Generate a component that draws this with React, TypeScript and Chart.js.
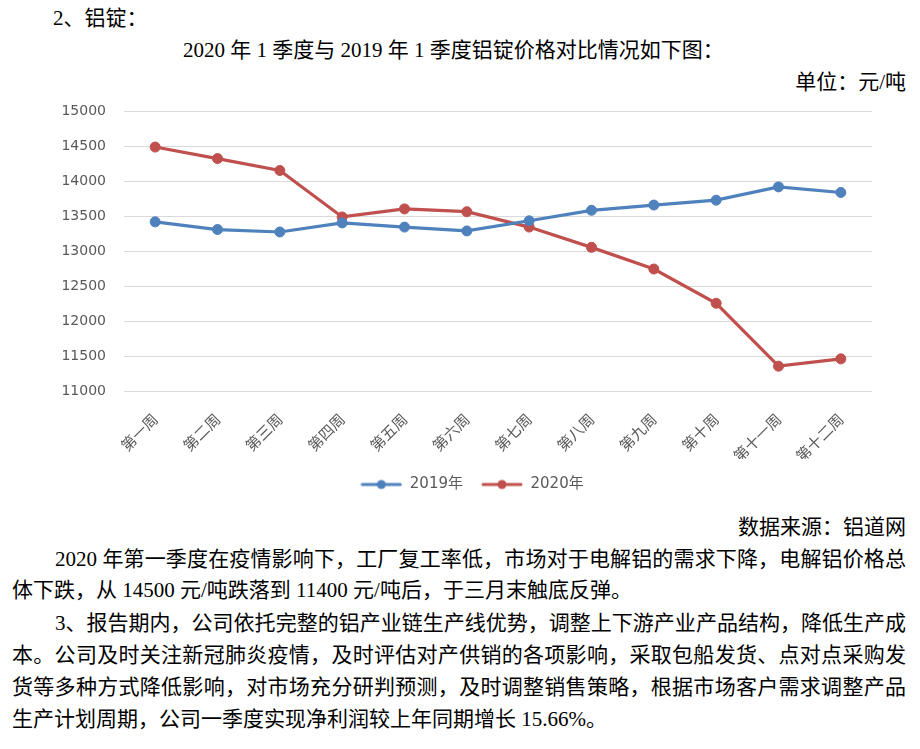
import React, { useEffect, useRef } from "react";
import { Chart, registerables } from "chart.js";

Chart.register(...registerables);

const categories = ["第一周", "第二周", "第三周", "第四周", "第五周", "第六周", "第七周", "第八周", "第九周", "第十周", "第十一周", "第十二周"];
const series2019 = [13420, 13310, 13275, 13405, 13345, 13290, 13435, 13585, 13660, 13730, 13920, 13840];
const series2020 = [14490, 14325, 14155, 13490, 13605, 13565, 13345, 13055, 12745, 12255, 11355, 11460];
const seriesNames = ["2019年", "2020年"];
const yMin = 11000;
const yMax = 15000;
const yStep = 500;

const BLUE = "#4F81BD";
const RED = "#C0504D";

const textFont = '"Liberation Serif", "Noto Sans CJK SC", serif';

function legendIcon(color: string): HTMLCanvasElement {
  const c = document.createElement("canvas");
  c.width = 42;
  c.height = 12;
  const ctx = c.getContext("2d")!;
  ctx.strokeStyle = color;
  ctx.lineWidth = 3;
  ctx.lineCap = "round";
  ctx.beginPath();
  ctx.moveTo(2, 6);
  ctx.lineTo(40, 6);
  ctx.stroke();
  ctx.fillStyle = color;
  ctx.beginPath();
  ctx.arc(21, 6, 4.5, 0, Math.PI * 2);
  ctx.fill();
  return c;
}

const legendShift = {
  id: "legendShift",
  afterLayout(chart: any) {
    if (chart.legend) {
      chart.legend.left += 28;
    }
  },
};

function LineChart() {
  const ref = useRef<HTMLCanvasElement | null>(null);
  useEffect(() => {
    if (!ref.current) return;
    const icons = [legendIcon(BLUE), legendIcon(RED)];
    const chart = new Chart(ref.current, {
      type: "line",
      data: {
        labels: categories,
        datasets: [
          {
            label: seriesNames[0],
            data: series2019,
            borderColor: BLUE,
            backgroundColor: BLUE,
            pointBackgroundColor: BLUE,
            pointBorderColor: BLUE,
            borderWidth: 3.2,
            pointRadius: 5,
            pointBorderWidth: 1,
            tension: 0,
            pointStyle: "circle",
          },
          {
            label: seriesNames[1],
            data: series2020,
            borderColor: RED,
            backgroundColor: RED,
            pointBackgroundColor: RED,
            pointBorderColor: RED,
            borderWidth: 3.2,
            pointRadius: 5,
            pointBorderWidth: 1,
            tension: 0,
            pointStyle: "circle",
          },
        ],
      },
      plugins: [legendShift],
      options: {
        animation: false,
        responsive: true,
        maintainAspectRatio: false,
        layout: { padding: { top: 11, right: 28, bottom: 3, left: 0 } },
        plugins: {
          tooltip: { enabled: false },
          legend: {
            position: "bottom",
            labels: {
              usePointStyle: true,
              pointStyleWidth: 42,
              boxHeight: 12,
              padding: 18,
              color: "#595959",
              font: { family: '"DejaVu Sans", "Noto Sans CJK SC", sans-serif', size: 15 },
              generateLabels: (chart: any) =>
                chart.data.datasets.map((ds: any, i: number) => ({
                  text: ds.label,
                  fillStyle: ds.borderColor,
                  strokeStyle: ds.borderColor,
                  lineWidth: 0,
                  pointStyle: icons[i],
                  datasetIndex: i,
                  hidden: false,
                  fontColor: "#595959",
                })),
            },
          },
        },
        scales: {
          x: {
            offset: true,
            grid: { display: false },
            border: { display: false },
            afterFit: (scale: any) => {
              scale.height = 68;
            },
            ticks: {
              autoSkip: false,
              minRotation: 45,
              maxRotation: 45,
              padding: 11,
              color: "#595959",
              font: { family: '"Noto Sans CJK SC", sans-serif', size: 15 },
            },
          },
          y: {
            min: yMin,
            max: yMax,
            grid: { color: "#d9d9d9", lineWidth: 1, drawTicks: false },
            border: { display: false },
            afterFit: (scale: any) => {
              scale.width = 80;
            },
            ticks: {
              stepSize: yStep,
              padding: 18,
              color: "#595959",
              font: { family: '"DejaVu Sans", sans-serif', size: 14 },
              callback: (v: any) => String(v),
            },
          },
        },
      },
    });
    return () => chart.destroy();
  }, []);
  return (
    <div style={{ position: "absolute", left: 44, top: 85, width: 856, height: 420 }}>
      <canvas ref={ref} />
    </div>
  );
}

const lineStyle: React.CSSProperties = {
  position: "absolute",
  fontFamily: textFont,
  fontSize: 21,
  lineHeight: "32px",
  color: "#000",
  whiteSpace: "nowrap",
};

function Justified({ top, left, width, text }: { top: number; left: number; width: number; text: string }) {
  return (
    <div
      style={{
        ...lineStyle,
        top,
        left,
        width,
        textAlign: "justify",
        textAlignLast: "justify" as any,
        whiteSpace: "normal",
        overflow: "hidden",
        height: 32,
      }}
    >
      {text}
    </div>
  );
}

export default function App() {
  return (
    <div style={{ position: "absolute", left: 0, top: 0, width: 920, height: 749, background: "#fff", overflow: "hidden" }}>
      <div style={{ ...lineStyle, top: 2, left: 53 }}>2、铝锭：</div>
      <div style={{ ...lineStyle, top: 34, left: 183 }}>2020 年 1 季度与 2019 年 1 季度铝锭价格对比情况如下图：</div>
      <div style={{ ...lineStyle, top: 66, right: 14 }}>单位：元/吨</div>
      <LineChart />
      <div style={{ ...lineStyle, top: 511, right: 14 }}>数据来源：铝道网</div>
      <Justified top={543} left={55} width={851} text="2020 年第一季度在疫情影响下，工厂复工率低，市场对于电解铝的需求下降，电解铝价格总" />
      <div style={{ ...lineStyle, top: 574, left: 12 }}>体下跌，从 14500 元/吨跌落到 11400 元/吨后，于三月末触底反弹。</div>
      <Justified top={607} left={55} width={851} text="3、报告期内，公司依托完整的铝产业链生产线优势，调整上下游产业产品结构，降低生产成" />
      <Justified top={639} left={12} width={894} text="本。公司及时关注新冠肺炎疫情，及时评估对产供销的各项影响，采取包船发货、点对点采购发" />
      <Justified top={671} left={12} width={894} text="货等多种方式降低影响，对市场充分研判预测，及时调整销售策略，根据市场客户需求调整产品" />
      <div style={{ ...lineStyle, top: 703, left: 12 }}>生产计划周期，公司一季度实现净利润较上年同期增长 15.66%。</div>
    </div>
  );
}
